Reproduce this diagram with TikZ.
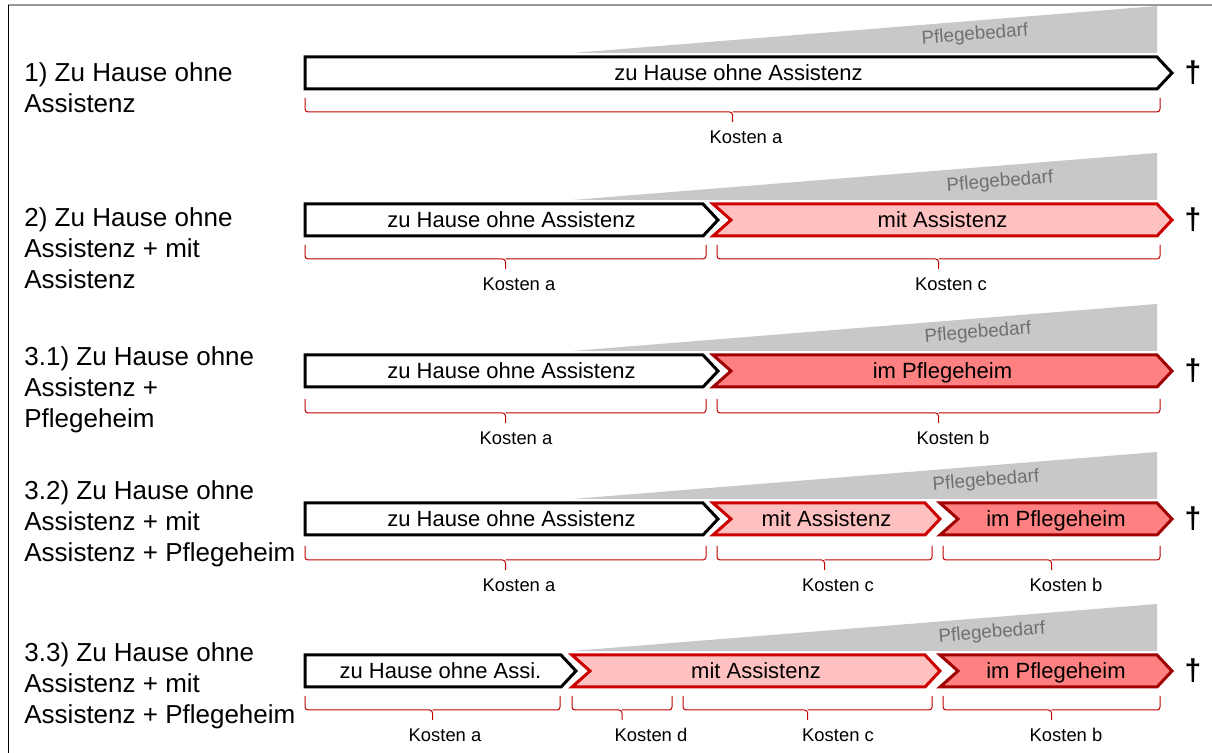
\documentclass[tikz,border=0pt]{standalone}
\usepackage{fontspec}
\setmainfont{Liberation Sans}
\usepackage{tikz}
\usetikzlibrary{positioning}

\definecolor{pinkfill}{HTML}{FFC0C0}
\definecolor{pinkline}{HTML}{CC0000}
\definecolor{heimfill}{HTML}{FF8080}
\definecolor{heimline}{HTML}{A00000}
\definecolor{needgray}{HTML}{C8C8C8}
\definecolor{needtext}{HTML}{707070}
\definecolor{bracered}{HTML}{C00000}

% chevron: style, left x, body end x, row y, notch depth, text, name
\newcommand\segm[7]{%
  \draw[#1] ({#2},{#4-16}) -- ({#3},{#4-16}) -- ({#3+15},{#4})
    -- ({#3},{#4+16}) -- ({#2},{#4+16}) -- ({#2+#5},{#4}) -- cycle;
  \node[segtext] (#7) at ({(#2+#3+15)/2},{#4}) {#6};}

% cost brace: left x, right x, row y, label x, label, name
\newcommand\kosten[6]{%
  \draw[kbr] ({#1},{#3+25}) -- ({#1},{#3+39}) -- ({(#1+#2)/2},{#3+39})
    -- ({(#1+#2)/2},{#3+49});
  \draw[kbr] ({(#1+#2)/2},{#3+39}) -- ({#2},{#3+39}) -- ({#2},{#3+25});
  \node[kost] (#6) at ({#4},{#3+64}) {#5};}

% care need wedge: row y, label x, name
\newcommand\bedarf[3]{%
  \fill[needgray] (572,{#1-20}) -- (1157,{#1-67}) -- (1157,{#1-20}) -- cycle;
  \node[needlbl] (#3) at ({#2},{#1-38}) {Pflegebedarf};}

\begin{document}
\begin{tikzpicture}[x=0.5pt, y=-0.5pt,
  home/.style   = {draw=black, fill=white, line width=1.5pt},
  assist/.style = {draw=pinkline, fill=pinkfill, line width=1.5pt},
  heim/.style   = {draw=heimline, fill=heimfill, line width=1.5pt},
  segtext/.style= {inner sep=0pt, text height=7.9pt, text depth=0pt,
                   font=\fontsize{11}{13}\selectfont},
  kbr/.style    = {draw=bracered, line width=0.5pt, rounded corners=1.5pt},
  kost/.style   = {inner sep=0pt, text height=6.6pt, text depth=0pt,
                   font=\fontsize{9.2}{11}\selectfont},
  needlbl/.style= {inner sep=0pt, text=needtext, rotate=4.5,
                   font=\fontsize{9.4}{11}\selectfont},
  rowlbl/.style = {anchor=north west, inner sep=0pt, align=left,
                   font=\fontsize{13}{15.5}\selectfont},
  death/.style  = {inner sep=0pt, font=\fontsize{15}{17}\bfseries}
]
\useasboundingbox (0,0) rectangle (1212,753);

% --- Frame ---
\draw[gray!80, line width=1pt] (8,5) -- (1212,5);
\draw[black, line width=0.5pt] (8,5) -- (8,753);

% --- Row 1 ---
\node[rowlbl] (lbl1) at (24,62) {1) Zu Hause ohne\\Assistenz};
\bedarf{73}{975}{need1}
\segm{home}{305}{1157}{73}{0}{zu Hause ohne Assistenz}{home1}
\node[death] (dag1) at (1193,73) {\textdagger};
\kosten{305}{1160}{73}{746}{Kosten a}{ka1}

% --- Row 2 ---
\node[rowlbl] (lbl2) at (24,207) {2) Zu Hause ohne\\Assistenz + mit\\Assistenz};
\bedarf{220}{1000}{need2}
\segm{home}{305}{703}{220}{0}{zu Hause ohne Assistenz}{home2}
\segm{assist}{713}{1157}{220}{18}{mit Assistenz}{assist2}
\node[death] (dag2) at (1193,220) {\textdagger};
\kosten{305}{706}{220}{519}{Kosten a}{ka2}
\kosten{717}{1160}{220}{951}{Kosten c}{kc2}

% --- Row 3.1 ---
\node[rowlbl] (lbl3) at (24,346) {3.1) Zu Hause ohne\\Assistenz +\\Pflegeheim};
\bedarf{371}{978}{need3}
\segm{home}{305}{703}{371}{0}{zu Hause ohne Assistenz}{home3}
\segm{heim}{713}{1157}{371}{18}{im Pflegeheim}{heim3}
\node[death] (dag3) at (1193,371) {\textdagger};
\kosten{305}{706}{374}{516}{Kosten a}{ka3}
\kosten{717}{1160}{374}{953}{Kosten b}{kb3}

% --- Row 3.2 ---
\node[rowlbl] (lbl4) at (24,480) {3.2) Zu Hause ohne\\Assistenz + mit\\Assistenz + Pflegeheim};
\bedarf{519}{986}{need4}
\segm{home}{305}{703}{519}{0}{zu Hause ohne Assistenz}{home4}
\segm{assist}{713}{925}{519}{18}{mit Assistenz}{assist4}
\segm{heim}{940}{1157}{519}{18}{im Pflegeheim}{heim4}
\node[death] (dag4) at (1193,519) {\textdagger};
\kosten{305}{706}{521}{519}{Kosten a}{ka4}
\kosten{717}{932}{521}{838}{Kosten c}{kc4}
\kosten{943}{1160}{521}{1066}{Kosten b}{kb4}

% --- Row 3.3 ---
\node[rowlbl] (lbl5) at (24,642) {3.3) Zu Hause ohne\\Assistenz + mit\\Assistenz + Pflegeheim};
\bedarf{671}{992}{need5}
\segm{home}{305}{561}{671}{0}{zu Hause ohne Assi.}{home5}
\segm{assist}{572}{925}{671}{18}{mit Assistenz}{assist5}
\segm{heim}{940}{1157}{671}{18}{im Pflegeheim}{heim5}
\node[death] (dag5) at (1193,671) {\textdagger};
\kosten{305}{560}{671}{445}{Kosten a}{ka5}
\kosten{572}{672}{671}{651}{Kosten d}{kd5}
\kosten{683}{932}{671}{838}{Kosten c}{kc5}
\kosten{943}{1160}{671}{1066}{Kosten b}{kb5}

\end{tikzpicture}
\end{document}
